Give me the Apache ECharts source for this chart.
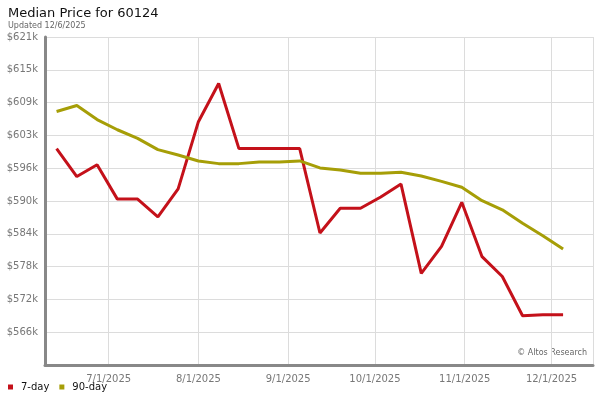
<!DOCTYPE html>
<html>
<head>
<meta charset="utf-8">
<script src="https://cdn.jsdelivr.net/npm/echarts@6/dist/echarts.min.js"></script>
<style>html,body{margin:0;padding:0;background:#fff}#c{width:600px;height:400px}</style>
</head>
<body>
<div id="c"></div>
<script>
// Weekly dates (Fridays), 2025
const dates = ['2025-06-13','2025-06-20','2025-06-27','2025-07-04','2025-07-11','2025-07-18','2025-07-25',
  '2025-08-01','2025-08-08','2025-08-15','2025-08-22','2025-08-29','2025-09-05','2025-09-12','2025-09-19',
  '2025-09-26','2025-10-03','2025-10-10','2025-10-17','2025-10-24','2025-10-31','2025-11-07','2025-11-14',
  '2025-11-21','2025-11-28','2025-12-05'];
const sevenDay = [600100,594900,597100,590700,590700,587400,592600,605100,612200,600100,600100,600100,600100,
  584400,589000,589000,591100,593500,576900,581900,590100,580000,576300,569000,569200,569200];
const ninetyDay = [607000,608100,605500,603600,602000,599900,598900,597800,597300,597300,597600,597600,597800,
  596500,596100,595500,595500,595700,595000,594000,592900,590400,588700,586200,583900,581400];
const seriesNames = ['7-day','90-day'];
const yMin = 559850, yMax = 620850, yStep = 6100;
const xMin = '2025-06-09T00:00:00', xMax = '2025-12-15T08:00:00';

function toTs(s){ const p = s.split('-').map(Number); return new Date(p[0], p[1]-1, p[2]).getTime(); }
const chart = echarts.init(document.getElementById('c'), null, {renderer:'canvas'});
const font = 'DejaVu Sans';
chart.setOption({
  animation: false,
  backgroundColor: '#fff',
  title: {
    text: 'Median Price for 60124',
    subtext: 'Updated 12/6/2025',
    left: 3, top: 2, itemGap: 2,
    textStyle: {fontFamily: font, fontSize: 13, fontWeight: 'normal', color: '#111'},
    subtextStyle: {fontFamily: font, fontSize: 8, color: '#666'}
  },
  legend: {
    left: 3, top: 377, icon: 'rect', itemWidth: 5, itemHeight: 5, itemGap: 10,
    textStyle: {fontFamily: font, fontSize: 10, color: '#111', padding: [0,0,0,3]},
    data: seriesNames
  },
  grid: {left: 45, right: 7, top: 37, bottom: 35, containLabel: false},
  xAxis: {
    type: 'time',
    min: new Date(xMin).getTime(), max: new Date(xMax).getTime(),
    axisLine: {show: true, lineStyle: {color: '#888', width: 3}},
    axisTick: {show: false},
    splitLine: {show: true, lineStyle: {color: '#dcdcdc', width: 1}},
    axisLabel: {
      fontFamily: font, fontSize: 10, color: '#777', margin: 9,
      formatter: function(v){ const d = new Date(v); return (d.getMonth()+1)+'/'+d.getDate()+'/'+d.getFullYear(); }
    }
  },
  yAxis: {
    type: 'value', min: yMin, max: yMax, interval: yStep,
    axisLine: {show: true, lineStyle: {color: '#888', width: 3}},
    axisTick: {show: false},
    splitLine: {show: true, lineStyle: {color: '#dcdcdc', width: 1}},
    axisLabel: {
      fontFamily: font, fontSize: 10, color: '#777', margin: 7, showMinLabel: false,
      formatter: function(v){ return '$' + Math.round(v/1000) + 'k'; }
    }
  },
  graphic: [{
    type: 'text', right: 13, top: 349,
    style: {text: '© Altos Research', font: '8px "DejaVu Sans"', fill: '#666'}
  }],
  series: [
    {name: seriesNames[0], type: 'line', showSymbol: false, symbol: 'none',
     lineStyle: {color: '#c4111a', width: 3}, itemStyle: {color: '#c4111a'},
     data: dates.map((d,i) => [toTs(d), sevenDay[i]])},
    {name: seriesNames[1], type: 'line', showSymbol: false, symbol: 'none',
     lineStyle: {color: '#a69e07', width: 3}, itemStyle: {color: '#a69e07'},
     data: dates.map((d,i) => [toTs(d), ninetyDay[i]])}
  ]
});
</script>
</body>
</html>
